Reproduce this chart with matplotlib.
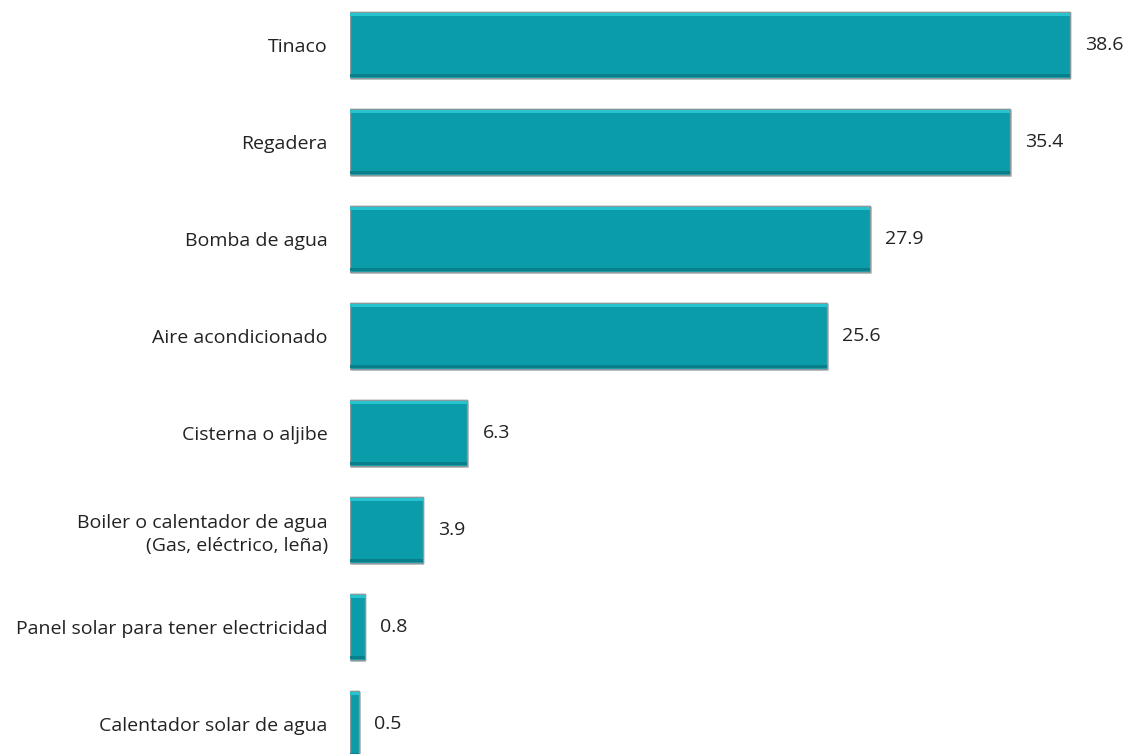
import matplotlib.pyplot as plt
import matplotlib.patheffects as pe

plt.rcParams['font.family'] = ['Open Sans', 'DejaVu Sans']

categorias = [
    "Tinaco",
    "Regadera",
    "Bomba de agua",
    "Aire acondicionado",
    "Cisterna o aljibe",
    "Boiler o calentador de agua\n(Gas, eléctrico, leña)",
    "Panel solar para tener electricidad",
    "Calentador solar de agua",
]
valores = [38.6, 35.4, 27.9, 25.6, 6.3, 3.9, 0.8, 0.5]

fig = plt.figure(figsize=(11.26, 7.54), dpi=100)
ax = fig.add_axes([350 / 1126, 0, 1 - 350 / 1126, 1])

y = list(range(len(valores)))
bars = ax.barh(y, valores, height=0.69, color="#0b9ca9",
               edgecolor="#8a9a9c", linewidth=1.0)
for b in bars:
    b.set_path_effects([pe.withSimplePatchShadow(offset=(1, -1), shadow_rgbFace="#aaaaaa", alpha=0.5),
                        pe.Normal()])

# bisel: brillo arriba, sombra abajo
ax.barh([i - 0.315 for i in y], valores, height=0.04, color="#27c3cf", linewidth=0)
ax.barh([i + 0.315 for i in y], valores, height=0.04, color="#087f8a", linewidth=0)

for i, v in enumerate(valores):
    ax.text(v + 0.8, i, f"{v}", va="center", ha="left", fontsize=14, color="#222222")

ax.set_yticks(y)
ax.set_yticklabels(categorias, fontsize=14, color="#222222")
ax.tick_params(axis="y", length=0, pad=16)
ax.set_xticks([])
ax.set_xlim(0, (1126 - 350) / 18.65)
ax.set_ylim((754 - 45) / 97, -45 / 97)
for s in ax.spines.values():
    s.set_visible(False)
for lbl in ax.get_yticklabels():
    lbl.set_horizontalalignment("right")
    lbl.set_multialignment("right")
    lbl.set_linespacing(1.35)

fig.savefig("out.png", dpi=100)
